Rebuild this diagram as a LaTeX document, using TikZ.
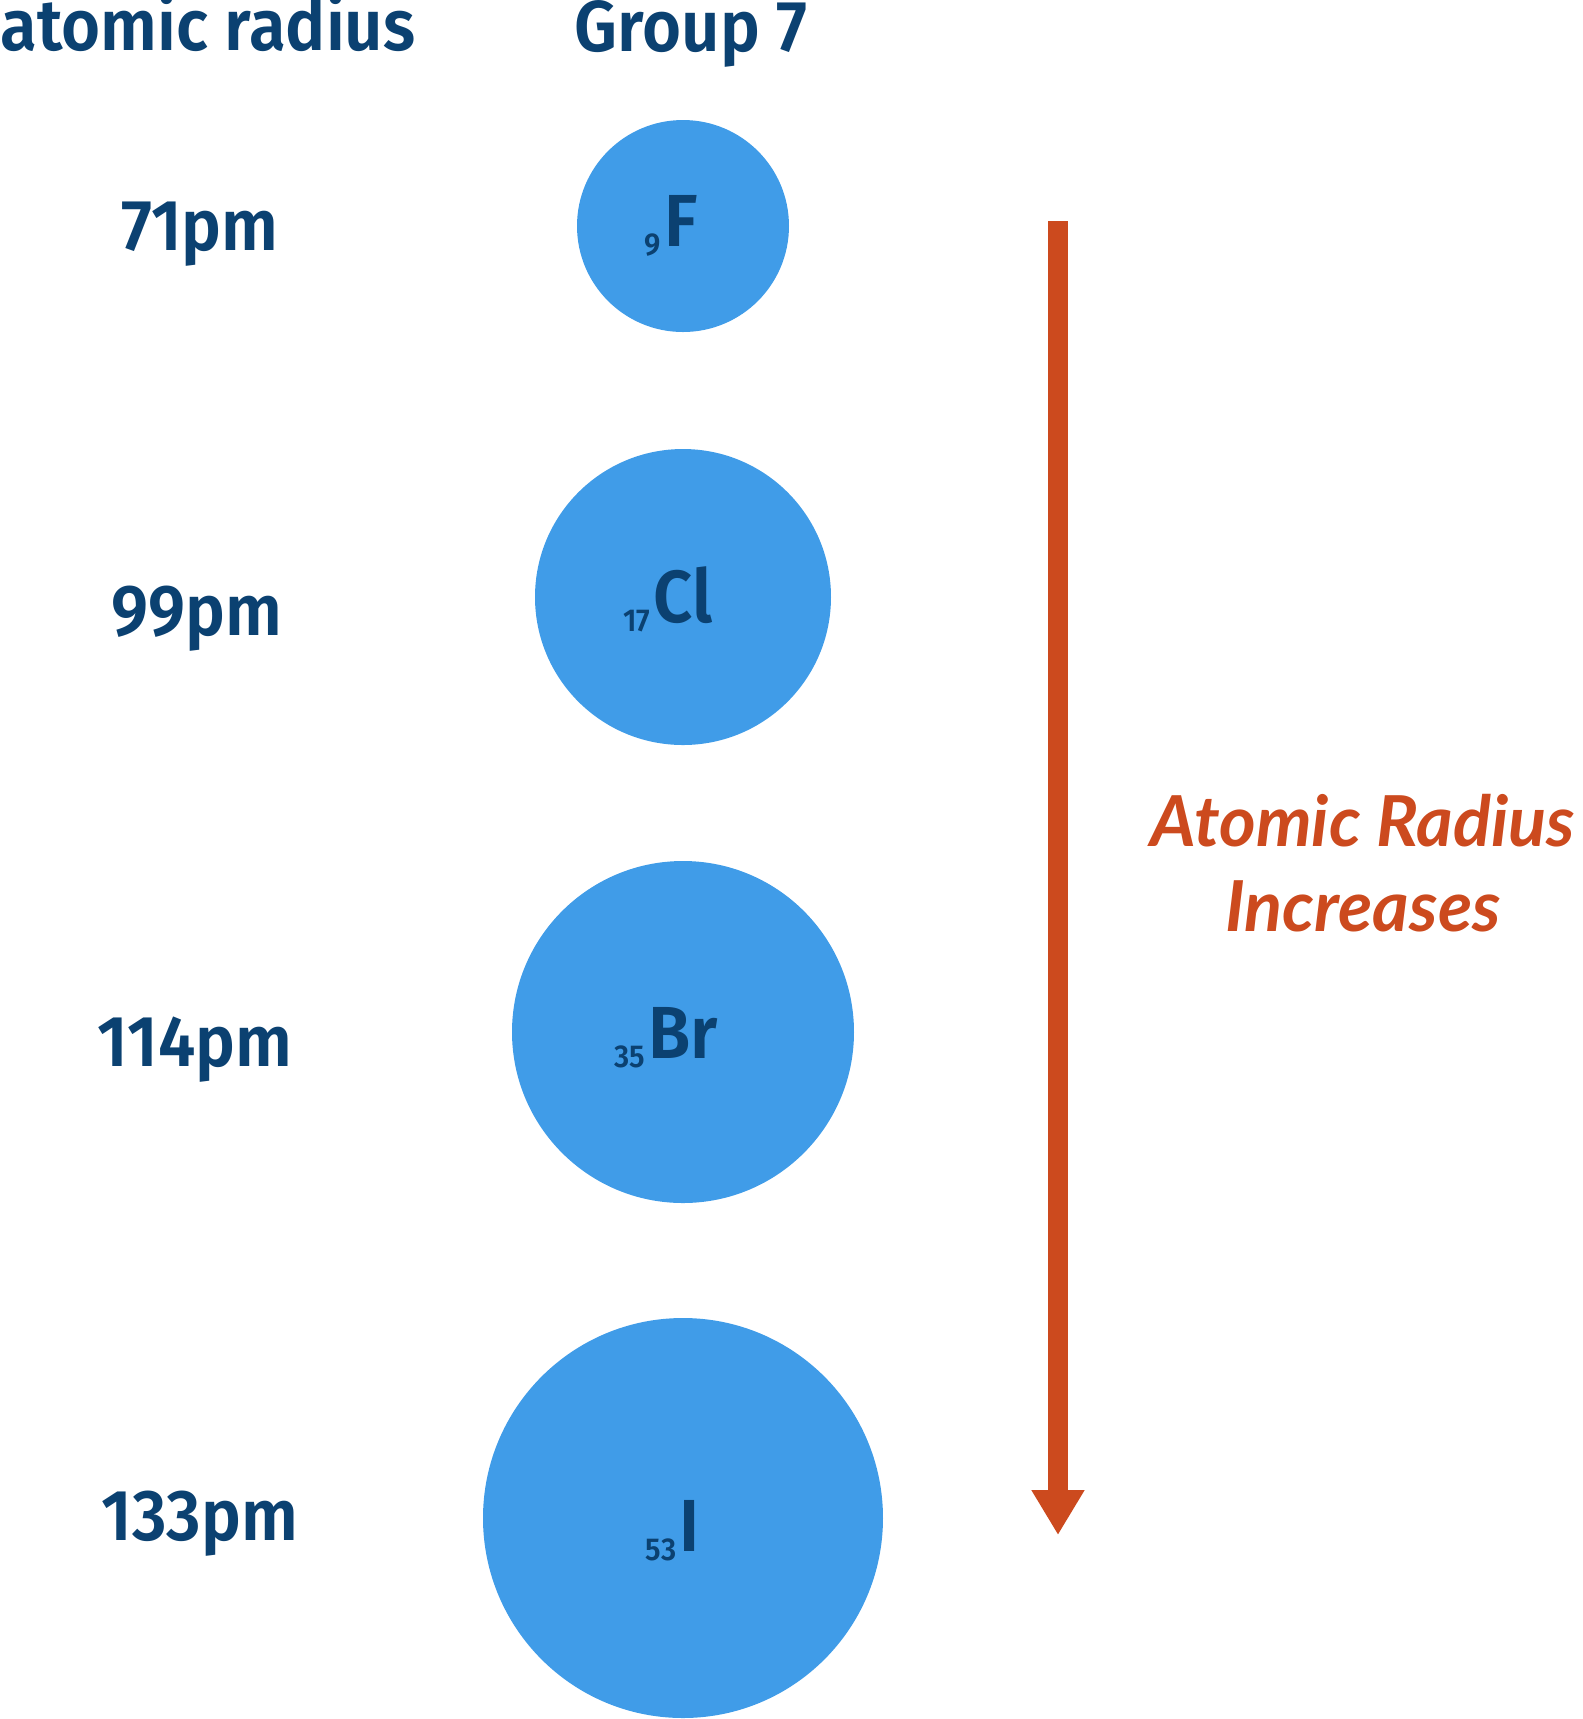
\documentclass[tikz,border=0pt]{standalone}
\usepackage{fontspec}
\setmainfont{Fira Sans}[BoldFont={Fira Sans SemiBold},FakeStretch=0.93]
\newfontfamily\handfont{Lato}
\usepackage{xcolor}
\usepackage{tikz}
\usetikzlibrary{arrows.meta}

\definecolor{atomblue}{RGB}{64,156,232}
\definecolor{inkblue}{RGB}{11,65,113}
\definecolor{trendred}{RGB}{204,74,30}

\newcommand{\atomsym}[2]{{\fontsize{9}{9}\selectfont\raisebox{-2.8pt}{#1}}\kern1pt#2}

\begin{document}
\begin{tikzpicture}[
    atom/.style={circle,fill=atomblue,draw=none,inner sep=0pt,minimum size=#1},
    symlabel/.style={text=inkblue,inner sep=0pt,anchor=base,font=\bfseries\fontsize{21}{21}\selectfont},
    radlabel/.style={text=inkblue,inner sep=0pt,anchor=base,font=\bfseries\fontsize{20.5}{20.5}\selectfont},
    trendlabel/.style={text=trendred,inner sep=0pt,anchor=base,font=\handfont\bfseries\itshape\fontsize{20}{20}\selectfont}
  ]
             \useasboundingbox (0,0) rectangle (15.83,-17.19);

             \node[radlabel,anchor=base west] (head1) at (0,-0.50) {atomic radius};
             \node[radlabel] (head2) at (6.91,-0.51) {Group 7};

             \node[atom=2.12cm] (F) at (6.83,-2.26) {};
             \node[atom=2.96cm] (Cl) at (6.83,-5.97) {};
             \node[atom=3.42cm] (Br) at (6.83,-10.32) {};
             \node[atom=4.00cm] (I) at (6.83,-15.18) {};

             \node[symlabel] (Fsym) at (6.71,-2.46) {\atomsym{9}{F}};
             \node[symlabel] (Clsym) at (6.68,-6.22) {\atomsym{17}{Cl}};
             \node[symlabel] (Brsym) at (6.66,-10.58) {\atomsym{35}{Br}};
             \node[symlabel] (Isym) at (6.73,-15.51) {\atomsym{53}{I}};

             \node[radlabel] (Frad) at (2.00,-2.50) {71pm};
             \node[radlabel] (Clrad) at (1.97,-6.35) {99pm};
             \node[radlabel] (Brrad) at (1.95,-10.66) {114pm};
             \node[radlabel] (Irad) at (2.00,-15.40) {133pm};

             % trend arrow
             \coordinate (arrtop) at (10.58,-2.21);
             \coordinate (arrtip) at (10.58,-15.35);
             \draw[trendred,line width=2mm,-{Triangle[length=4.5mm,width=5mm]}] (arrtop) -- (arrtip);

             \node[trendlabel] (trend1) at (13.63,-8.46) {Atomic Radius};
             \node[trendlabel] (trend2) at (13.63,-9.31) {Increases};

             \end{tikzpicture}
\end{document}
